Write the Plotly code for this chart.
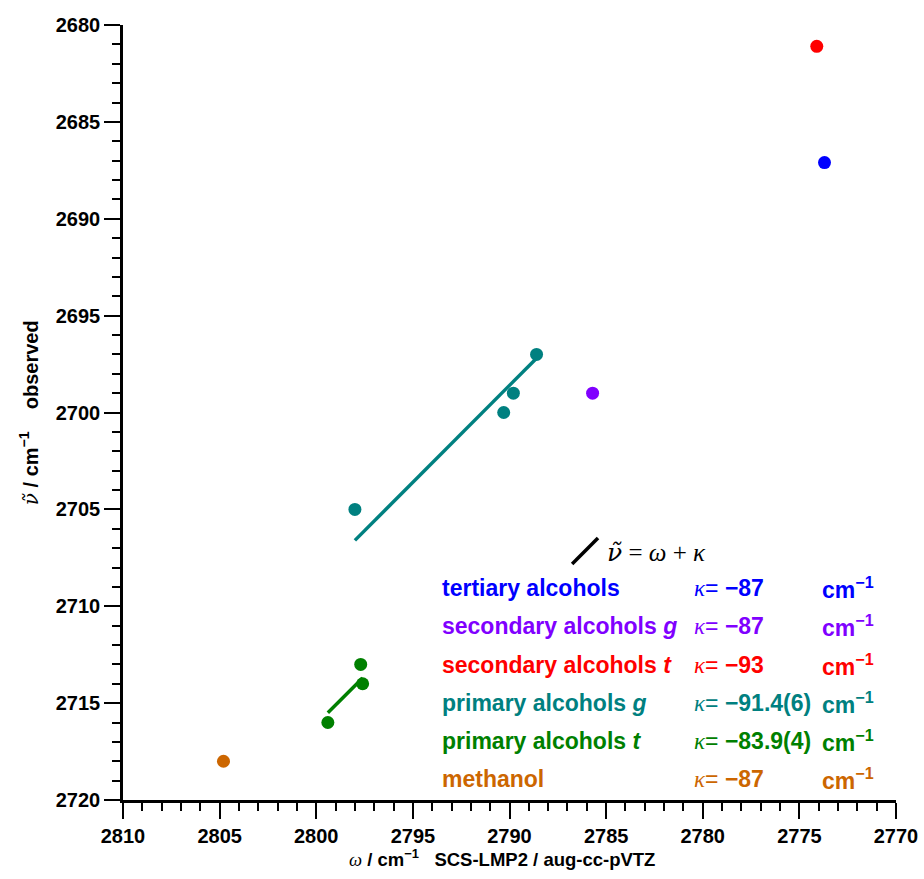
import plotly.graph_objects as go

# ---- data ----
series_names = ["tertiary alcohols", "secondary alcohols <i>g</i>", "secondary alcohols <i>t</i>",
                "primary alcohols <i>g</i>", "primary alcohols <i>t</i>", "methanol"]
series_colors = ["#0000FF", "#8000FF", "#FF0000", "#008080", "#008000", "#CC6600"]
kappa_labels = ["−87", "−87", "−93", "−91.4(6)", "−83.9(4)", "−87"]

omega_tertiary = [2773.7]
nu_tertiary = [2687.1]
omega_sec_g = [2785.7]
nu_sec_g = [2699.0]
omega_sec_t = [2774.1]
nu_sec_t = [2681.1]
omega_prim_g = [2788.6, 2789.8, 2790.3, 2798.0]
nu_prim_g = [2697.0, 2699.0, 2700.0, 2705.0]
omega_prim_t = [2797.7, 2797.6, 2799.4]
nu_prim_t = [2713.0, 2714.0, 2716.0]
omega_methanol = [2804.8]
nu_methanol = [2718.0]

kappa_prim_g = -91.4
kappa_prim_t = -83.9

x_ticks = [2810, 2805, 2800, 2795, 2790, 2785, 2780, 2775, 2770]
y_ticks = [2680, 2685, 2690, 2695, 2700, 2705, 2710, 2715, 2720]

SANS = "Liberation Sans, Arial, sans-serif"
SERIF = "DejaVu Serif, Liberation Serif, serif"
TSERIF = "Liberation Serif, Times New Roman, serif"

fig = go.Figure()

# fit lines nu = omega + kappa
for om, kap, col in [(omega_prim_g, kappa_prim_g, "#008080"), (omega_prim_t, kappa_prim_t, "#008000")]:
    xs = [min(om), max(om)]
    fig.add_trace(go.Scatter(x=xs, y=[v + kap for v in xs], mode="lines",
                             line=dict(color=col, width=3.5), showlegend=False, hoverinfo="skip"))

all_series = [(omega_tertiary, nu_tertiary), (omega_sec_g, nu_sec_g), (omega_sec_t, nu_sec_t),
              (omega_prim_g, nu_prim_g), (omega_prim_t, nu_prim_t), (omega_methanol, nu_methanol)]
for (om, nu), col, name in zip(all_series, series_colors, series_names):
    fig.add_trace(go.Scatter(x=om, y=nu, mode="markers", name=name,
                             marker=dict(color=col, size=13, line=dict(width=0)), showlegend=False))

# legend-like annotations
row_y = [0.2735, 0.2245, 0.1742, 0.1252, 0.0761, 0.0271]
for ry, name, col, kl in zip(row_y, series_names, series_colors, kappa_labels):
    fig.add_annotation(xref="paper", yref="paper", x=0.410, y=ry, xanchor="left", yanchor="middle",
                       text=f"<b>{name}</b>", showarrow=False,
                       font=dict(family=SANS, size=23, color=col))
    fig.add_annotation(xref="paper", yref="paper", x=0.736, y=ry, xanchor="left", yanchor="middle",
                       text=f"<span style='font-family:{TSERIF}'><i>κ</i></span>= <b>{kl}</b>",
                       showarrow=False, font=dict(family=SANS, size=23, color=col))
    fig.add_annotation(xref="paper", yref="paper", x=0.902, y=ry, xanchor="left", yanchor="middle",
                       text="<b>cm<sup>−1</sup></b>", showarrow=False,
                       font=dict(family=SANS, size=23, color=col))

fig.add_annotation(xref="paper", yref="paper", x=0.624, y=0.32, xanchor="left", yanchor="middle",
                   text=f"<span style='font-family:{SERIF}'><i>ν̃</i></span> = <i>ω</i> + <i>κ</i>",
                   showarrow=False, font=dict(family=TSERIF, size=25, color="black"))
fig.add_shape(type="line", xref="paper", yref="paper", x0=0.581, y0=0.3045, x1=0.6145, y1=0.338,
              line=dict(color="black", width=3.5))

# axis titles
fig.add_annotation(xref="paper", yref="paper", x=0.49, y=-0.0748, xanchor="center", yanchor="middle",
                   text=f"<span style='font-family:{TSERIF}'><i>ω</i></span><b> / cm<sup>−1</sup>   SCS-LMP2 / aug-cc-pVTZ</b>",
                   showarrow=False, font=dict(family=SANS, size=18.5, color="black"))
fig.add_annotation(xref="paper", yref="paper", x=-0.122, y=0.5, xanchor="center", yanchor="middle",
                   textangle=-90,
                   text=f"<span style='font-family:{SERIF}'><i>ν̃</i></span><b> / cm<sup>−1</sup>    observed</b>",
                   showarrow=False, font=dict(family=SANS, size=20, color="black"))

axis_common = dict(showgrid=False, zeroline=False, showline=True, linecolor="black", linewidth=2.5,
                   ticks="outside", ticklen=16, tickwidth=2, tickcolor="black", automargin=False,
                   tickfont=dict(family=SANS, size=20, color="black", weight="bold"),
                   minor=dict(dtick=1, ticks="outside", ticklen=8, tickwidth=2, tickcolor="black"))

fig.update_xaxes(range=[2810, 2770], tickvals=x_ticks, ticktext=[str(v) for v in x_ticks], **axis_common)
fig.update_yaxes(range=[2720, 2680], tickvals=y_ticks, ticktext=[str(v) for v in y_ticks], **axis_common)

fig.update_layout(width=924, height=879, margin=dict(l=123, r=28, t=25, b=79),
                  plot_bgcolor="white", paper_bgcolor="white", showlegend=False)

fig.write_html("out.html")
